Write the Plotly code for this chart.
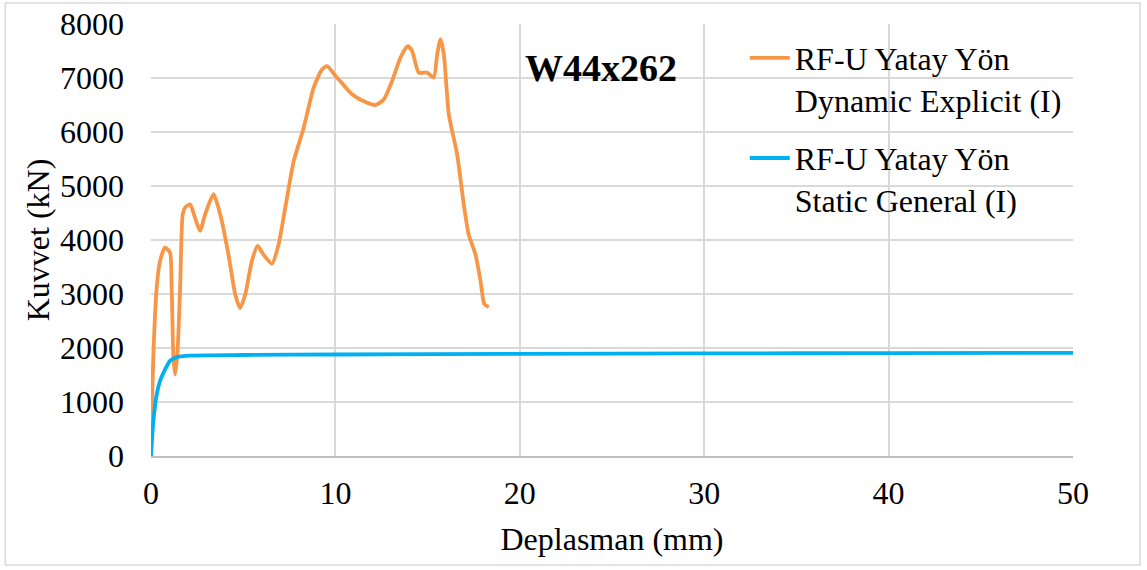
import plotly.graph_objects as go

# Dynamic Explicit curve (mm, kN)
dyn_x = [0, 0.13, 0.31, 0.49, 0.76, 1.03, 1.12, 1.21, 1.30, 1.43, 1.58, 1.72, 1.85, 2.12, 2.39, 2.66,
         2.94, 3.39, 3.75, 4.20, 4.57, 4.83, 5.11, 5.47, 5.78, 6.10, 6.56, 6.92, 7.28, 7.74, 8.28,
         8.82, 9.28, 9.55, 10.0, 10.27, 10.9, 11.54, 12.17, 12.62, 13.07, 13.53, 13.92, 14.16, 14.52,
         14.97, 15.33, 15.52, 15.70, 15.88, 16.15, 16.60, 16.96, 17.23, 17.60, 17.87, 18.08, 18.32]
dyn_y = [0, 1880, 3120, 3610, 3860, 3770, 3120, 1880, 1510, 1880, 3120, 4480, 4600, 4660, 4410, 4170,
         4480, 4850, 4480, 3730, 2990, 2740, 2990, 3610, 3890, 3730, 3560, 3920, 4600, 5460, 6080,
         6820, 7160, 7220, 7040, 6940, 6700, 6570, 6500, 6600, 6940, 7380, 7590, 7500, 7100,
         7100, 7010, 7440, 7720, 7440, 6330, 5590, 4660, 4100, 3730, 3240, 2810, 2760]

# Static General curve (mm, kN)
sta_x = [0, 0.13, 0.31, 0.49, 0.76, 1.03, 1.39, 2.12, 5.0, 10.0, 20.0, 30.0, 40.0, 50.0]
sta_y = [0, 650, 1140, 1390, 1600, 1760, 1830, 1860, 1870, 1880, 1890, 1900, 1905, 1910]

dyn_name = "RF-U Yatay Yön<br>Dynamic Explicit (I)"
sta_name = "RF-U Yatay Yön<br>Static General (I)"
title_text = "W44x262"
x_title = "Deplasman (mm)"
y_title = "Kuvvet (kN)"

FONT = "Liberation Serif, Times New Roman, serif"

fig = go.Figure()
fig.add_trace(go.Scatter(x=dyn_x, y=dyn_y, mode="lines", name=dyn_name, legendgroup="a",
                         line=dict(color="#F79646", width=3.8, shape="spline", smoothing=0.6)))
fig.add_trace(go.Scatter(x=sta_x, y=sta_y, mode="lines", name=sta_name, legendgroup="b",
                         line=dict(color="#00B0F0", width=3.8, shape="spline", smoothing=0.6)))

fig.update_layout(
    width=1147, height=570,
    margin=dict(l=151, r=74, t=24, b=114),
    paper_bgcolor="white", plot_bgcolor="white",
    font=dict(family=FONT, size=32, color="black"),
    showlegend=True,
    legend=dict(x=0.644, y=0.985, xanchor="left", yanchor="top", bgcolor="rgba(0,0,0,0)",
                font=dict(size=32, family=FONT), valign="top", tracegroupgap=14,
                itemwidth=40),
    xaxis=dict(range=[0, 50], dtick=10, showgrid=True, gridcolor="#d9d9d9", gridwidth=1.5,
               zeroline=False, showline=True, linecolor="#bfbfbf", linewidth=1.5,
               ticks="", tickfont=dict(size=32, family=FONT), ticklabelstandoff=8,
               automargin=False,
               title=dict(text=x_title, font=dict(size=32, family=FONT), standoff=17)),
    yaxis=dict(range=[0, 8000], dtick=1000, showgrid=True, gridcolor="#d9d9d9", gridwidth=1.5,
               zeroline=False, showline=False, ticks="",
               tickfont=dict(size=32, family=FONT), ticklabelstandoff=26,
               automargin=False,
               title=dict(text=y_title, font=dict(size=32, family=FONT), standoff=0)),
    annotations=[dict(text="<b>" + title_text + "</b>", x=0.488, y=0.898, xref="paper", yref="paper",
                      xanchor="center", yanchor="middle",
                      showarrow=False, font=dict(size=38, family=FONT, color="black"))],
    shapes=[dict(type="rect", xref="paper", yref="paper", x0=-0.158, x1=1.0727, y0=-0.2523, y1=1.0486,
                 line=dict(color="#d9d9d9", width=1.5), layer="below")],
)

fig.write_html("out.html", config={"displayModeBar": False},
               post_script="document.body.style.margin='0';")
